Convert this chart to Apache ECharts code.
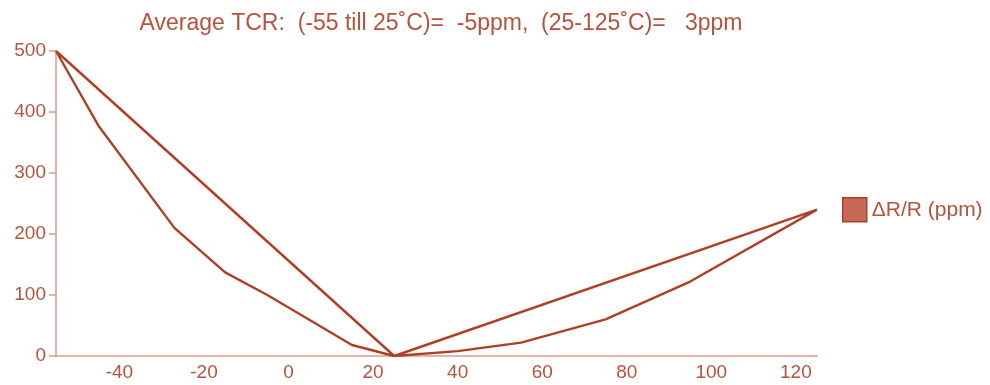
<!DOCTYPE html>
<html>
<head>
<meta charset="utf-8">
<script src="https://cdn.jsdelivr.net/npm/echarts@6/dist/echarts.min.js"></script>
<style>html,body{margin:0;padding:0;background:#fff;}#c{width:990px;height:385px;}</style>
</head>
<body>
<div id="c"></div>
<script>
// Temperature (°C) and ΔR/R (ppm): straight average lines, then measured curve back
const temps  = [-55, 25, 125, 95, 75, 55, 40, 25, 15, -5, -15, -27, -45, -55];
const values = [500, 0, 240, 122, 60, 22, 8, 0, 18, 100, 137, 210, 378, 500];
const xTicks = [-40, -20, 0, 20, 40, 60, 80, 100, 120];
const seriesName = 'ΔR/R (ppm)';
const titleText = 'Average TCR:  (-55 till 25˚C)=  -5ppm,  (25-125˚C)=   3ppm';

const lineColor = '#b13f27';
const textColor = '#b5533e';
const axisColor = '#d69c8e';
const font = 'Liberation Sans, Arial, sans-serif';

const chart = echarts.init(document.getElementById('c'));
chart.setOption({
  animation: false,
  title: {
    text: titleText, left: 436, top: 7, textAlign: 'center',
    textStyle: { color: textColor, fontSize: 23, fontWeight: 'normal', fontFamily: font }
  },
  legend: {
    data: [seriesName], left: 837, top: 192, orient: 'vertical',
    icon: 'rect', itemWidth: 24, itemHeight: 24, itemGap: 10,
    itemStyle: { color: '#c66a57', borderColor: lineColor, borderWidth: 1.5 },
    textStyle: { color: textColor, fontSize: 21, fontFamily: font }
  },
  grid: { left: 56, right: 173, top: 51, bottom: 29, containLabel: false },
  xAxis: {
    type: 'value', min: -55, max: 125,
    axisLine: { show: true, onZero: false, lineStyle: { color: axisColor, width: 1.5 } },
    axisTick: { show: false },
    splitLine: { show: false },
    axisLabel: { customValues: xTicks, color: textColor, fontSize: 19, fontFamily: font, margin: 7 }
  },
  yAxis: {
    type: 'value', min: 0, max: 500, interval: 100,
    axisLine: { show: true, onZero: false, lineStyle: { color: axisColor, width: 1.5 } },
    axisTick: { show: true, length: 7, lineStyle: { color: axisColor, width: 1.5 } },
    splitLine: { show: false },
    axisLabel: { color: textColor, fontSize: 19, fontFamily: font, margin: 10 }
  },
  series: [{
    name: seriesName, type: 'line', showSymbol: false, smooth: false,
    data: temps.map((t, i) => [t, values[i]]),
    lineStyle: { color: lineColor, width: 2.4 },
    itemStyle: { color: lineColor }
  }]
});
</script>
</body>
</html>
